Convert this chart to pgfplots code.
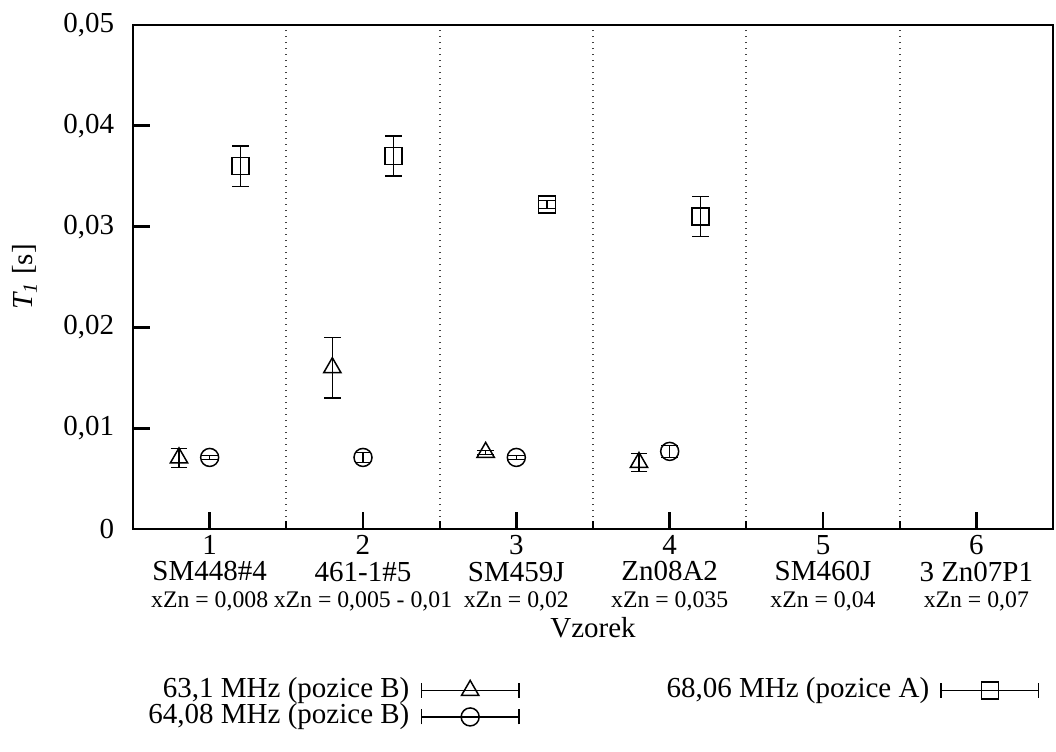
\documentclass[border=0pt]{standalone}
\usepackage{fontspec}
\setmainfont{Liberation Serif}
\usepackage{pgfplots}
\pgfplotsset{compat=1.18}
\newcommand{\xzn}{\fontsize{9.5pt}{10.2pt}\selectfont}
\begin{document}
\begin{tikzpicture}[font=\fontsize{11.6pt}{10.6pt}\selectfont]
\useasboundingbox (-53.2pt,-88.8pt) rectangle (369.2pt,211.6pt);
\begin{axis}[
  scale only axis, width=368pt, height=201.6pt,
  xmin=0.5, xmax=6.5, ymin=0, ymax=0.05,
  scaled y ticks=false,
  xtick={1,2,3,4,5,6},
  xticklabels={
    {1\\SM448\#4\\{\xzn xZn = 0,008}},
    {2\\461-1\#5\\{\xzn xZn = 0,005 - 0,01}},
    {3\\SM459J\\{\xzn xZn = 0,02}},
    {4\\Zn08A2\\{\xzn xZn = 0,035}},
    {5\\SM460J\\{\xzn xZn = 0,04}},
    {6\\3 Zn07P1\\{\xzn xZn = 0,07}}},
  minor xtick={1.5,2.5,3.5,4.5,5.5},
  xminorgrids,
  minor x grid style={dotted, black!75, line width=0.7pt},
  ytick={0,0.01,0.02,0.03,0.04,0.05},
  yticklabels={0,{0,01},{0,02},{0,03},{0,04},{0,05}},
  xtick pos=left, ytick pos=left,
  tick align=inside,
  major tick length=6.8pt, minor tick length=3.2pt,
  axis line style={line width=1.1pt},
  every tick/.style={black, line width=1.1pt},
  every minor tick/.style={black, line width=0.8pt},
  xticklabel style={align=center, yshift=1pt},
  yticklabel style={xshift=-4pt},
  xlabel={Vzorek},
  xlabel style={at={(axis description cs:0.5,-0.195)}, anchor=center},
  ylabel={\textit{T\textsubscript{1}} [s]},
  ylabel style={at={(axis description cs:-0.118,0.5)}, anchor=center},
  legend columns=2,
  legend cell align=right,
  legend plot pos=right,
  legend style={at={(axis description cs:0.0163,-0.293)}, anchor=north west,
    draw=none, fill=none, inner sep=0pt,
    nodes={inner sep=0pt, text height=8pt, text depth=2.6pt},
    /tikz/every odd column/.append style={column sep=4.5pt},
    /tikz/every even column/.append style={column sep=58.8pt}},
]
\addplot[black, only marks, mark=triangle, mark size=4pt, line width=0.6pt,
  error bars/.cd, y dir=both, y explicit,
  error bar style={line width=0.6pt},
  error mark options={rotate=90, mark size=3.3pt, line width=0.6pt},
  /pgfplots/legend image code/.code={
    \draw[line width=0.6pt] (0pt,-3pt)--(0pt,3pt) (0pt,0pt)--(39pt,0pt) (39pt,-3pt)--(39pt,3pt);
    \draw[line width=0.6pt] plot[mark=triangle, mark size=4pt, mark options={fill=white}] coordinates {(19.5pt,0pt)};}]
  table[x=x, y=y, y error=e] {
x y e
0.8 0.00705 0.00095
1.8 0.0160 0.0030
2.8 0.0076 0.0002
3.8 0.0066 0.0009
};
\addlegendentry{63,1 MHz (pozice B)}
\addplot[black, only marks, mark=square, mark size=3.4pt, line width=0.6pt,
  error bars/.cd, y dir=both, y explicit,
  error bar style={line width=0.6pt},
  error mark options={rotate=90, mark size=3.3pt, line width=0.6pt},
  /pgfplots/legend image code/.code={
    \draw[line width=0.6pt] (0pt,-3pt)--(0pt,3pt) (0pt,0pt)--(39pt,0pt) (39pt,-3pt)--(39pt,3pt);
    \draw[line width=0.6pt] plot[mark=square, mark size=3.4pt, mark options={fill=white}] coordinates {(19.5pt,0pt)};}]
  table[x=x, y=y, y error=e] {
x y e
1.2 0.0360 0.0020
2.2 0.0370 0.0020
3.2 0.0322 0.0004
4.2 0.0310 0.0020
};
\addlegendentry{68,06 MHz (pozice A)}
\addplot[black, only marks, mark=o, mark size=3.6pt, line width=0.6pt,
  error bars/.cd, y dir=both, y explicit,
  error bar style={line width=0.6pt},
  error mark options={rotate=90, mark size=3.3pt, line width=0.6pt},
  /pgfplots/legend image code/.code={
    \draw[line width=0.6pt] (0pt,-3pt)--(0pt,3pt) (0pt,0pt)--(39pt,0pt) (39pt,-3pt)--(39pt,3pt);
    \draw[line width=0.6pt] plot[mark=o, mark size=3.6pt, mark options={fill=white}] coordinates {(19.5pt,0pt)};}]
  table[x=x, y=y, y error=e] {
x y e
1 0.0071 0.0002
2 0.0071 0.0005
3 0.0071 0.0002
4 0.0077 0.0006
};
\addlegendentry{64,08 MHz (pozice B)}
\end{axis}
\end{tikzpicture}
\end{document}
